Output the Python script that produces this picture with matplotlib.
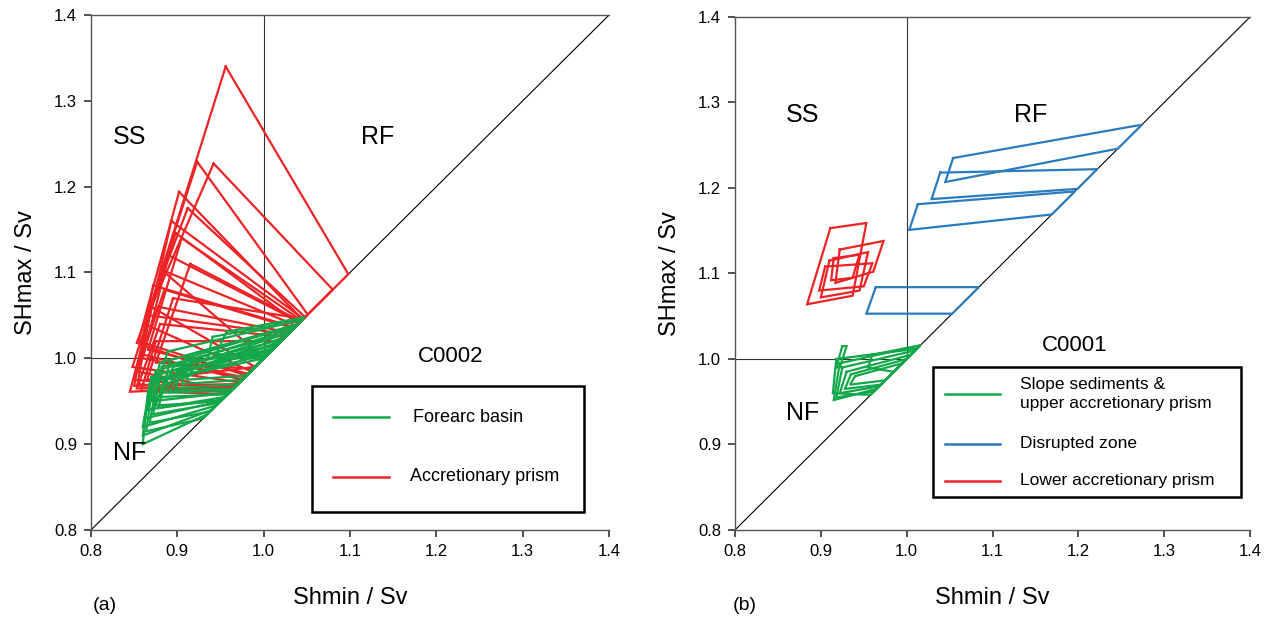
import matplotlib
matplotlib.use("Agg")
import matplotlib.pyplot as plt
from matplotlib.patches import Rectangle
from matplotlib.lines import Line2D

plt.rcParams["font.family"] = ["Liberation Sans", "DejaVu Sans"]

GREEN = "#12a84a"
RED = "#ee2326"
BLUE = "#2b7bbf"

# each polygon: [top-left, top-right (on diagonal), bottom-right (on diagonal), bottom-left]
red_a = [
    [(0.956, 1.340), (1.098, 1.098), (1.000, 1.000), (0.882, 1.103)],
    [(0.942, 1.227), (1.080, 1.080), (0.990, 0.990), (0.870, 1.060)],
    [(0.923, 1.229), (1.051, 1.051), (0.985, 0.985), (0.862, 1.040)],
    [(0.902, 1.194), (1.045, 1.045), (0.980, 0.980), (0.855, 1.020)],
    [(0.912, 1.175), (1.048, 1.048), (0.975, 0.975), (0.853, 1.018)],
    [(0.898, 1.146), (1.040, 1.040), (0.972, 0.972), (0.848, 0.990)],
    [(0.882, 1.103), (1.038, 1.038), (0.968, 0.968), (0.845, 0.961)],
    [(0.885, 1.080), (1.035, 1.035), (0.965, 0.965), (0.850, 0.975)],
    [(0.878, 1.060), (1.030, 1.030), (0.962, 0.962), (0.852, 0.985)],
    [(0.890, 1.120), (1.042, 1.042), (0.978, 0.978), (0.860, 1.000)],
    [(0.880, 1.040), (1.025, 1.025), (0.960, 0.960), (0.855, 0.970)],
    [(0.895, 1.070), (1.046, 1.046), (0.990, 0.990), (0.865, 0.975)],
    [(0.905, 1.140), (1.044, 1.044), (0.982, 0.982), (0.866, 1.010)],
    [(0.893, 1.160), (1.046, 1.046), (0.975, 0.975), (0.858, 1.005)],
    [(0.872, 1.085), (1.036, 1.036), (0.970, 0.970), (0.850, 0.968)],
    [(0.868, 1.050), (1.028, 1.028), (0.967, 0.967), (0.853, 0.965)],
    [(0.915, 1.110), (1.043, 1.043), (0.988, 0.988), (0.875, 0.995)],
    [(0.875, 1.020), (1.020, 1.020), (0.958, 0.958), (0.858, 0.962)],
]

green_a = [
    [(0.889, 1.008), (1.045, 1.045), (0.960, 0.960), (0.870, 0.950)],
    [(0.880, 0.995), (1.040, 1.040), (0.955, 0.955), (0.865, 0.940)],
    [(0.875, 0.985), (1.035, 1.035), (0.950, 0.950), (0.862, 0.930)],
    [(0.870, 0.978), (1.030, 1.030), (0.945, 0.945), (0.860, 0.920)],
    [(0.868, 0.970), (1.025, 1.025), (0.940, 0.940), (0.860, 0.910)],
    [(0.866, 0.962), (1.020, 1.020), (0.935, 0.935), (0.860, 0.900)],
    [(0.872, 0.975), (1.012, 1.012), (0.930, 0.930), (0.864, 0.915)],
    [(0.878, 0.982), (1.008, 1.008), (0.938, 0.938), (0.868, 0.925)],
    [(0.895, 0.990), (1.015, 1.015), (0.958, 0.958), (0.880, 0.955)],
    [(0.900, 0.985), (1.010, 1.010), (0.962, 0.962), (0.885, 0.960)],
    [(0.905, 0.980), (1.005, 1.005), (0.965, 0.965), (0.890, 0.962)],
    [(0.885, 0.975), (1.000, 1.000), (0.950, 0.950), (0.875, 0.945)],
    [(0.882, 0.990), (1.030, 1.030), (0.948, 0.948), (0.872, 0.935)],
    [(0.892, 0.998), (1.038, 1.038), (0.952, 0.952), (0.878, 0.942)],
    [(0.910, 1.000), (1.040, 1.040), (0.970, 0.970), (0.898, 0.965)],
    [(0.915, 0.995), (1.022, 1.022), (0.975, 0.975), (0.905, 0.970)],
    [(0.920, 0.990), (1.018, 1.018), (0.980, 0.980), (0.910, 0.975)],
    [(0.941, 1.025), (1.045, 1.045), (1.000, 1.000), (0.935, 1.000)],
    [(0.957, 1.031), (1.048, 1.048), (1.002, 1.002), (0.945, 1.005)],
]

blue_b = [
    [(1.054, 1.235), (1.274, 1.274), (1.246, 1.246), (1.045, 1.207)],
    [(1.039, 1.218), (1.222, 1.222), (1.199, 1.199), (1.029, 1.187)],
    [(1.013, 1.181), (1.196, 1.196), (1.169, 1.169), (1.003, 1.151)],
    [(0.964, 1.084), (1.084, 1.084), (1.053, 1.053), (0.953, 1.053)],
]

red_b = [
    [(0.911, 1.153), (0.953, 1.159), (0.937, 1.074), (0.884, 1.064)],
    [(0.922, 1.128), (0.973, 1.138), (0.961, 1.102), (0.917, 1.089)],
    [(0.910, 1.115), (0.955, 1.125), (0.945, 1.080), (0.900, 1.072)],
    [(0.915, 1.118), (0.945, 1.122), (0.937, 1.095), (0.912, 1.092)],
    [(0.905, 1.108), (0.960, 1.112), (0.950, 1.085), (0.898, 1.080)],
]

green_b = [
    [(0.922, 0.995), (1.016, 1.016), (0.965, 0.965), (0.915, 0.952)],
    [(0.925, 0.990), (1.010, 1.010), (0.962, 0.962), (0.918, 0.955)],
    [(0.930, 0.985), (1.005, 1.005), (0.968, 0.968), (0.922, 0.960)],
    [(0.935, 0.982), (1.000, 1.000), (0.970, 0.970), (0.928, 0.965)],
    [(0.940, 0.980), (0.995, 0.995), (0.975, 0.975), (0.934, 0.970)],
    [(0.918, 1.000), (1.012, 1.012), (0.958, 0.958), (0.914, 0.960)],
    [(0.960, 1.005), (1.016, 1.016), (0.985, 0.985), (0.955, 0.990)],
    [(0.925, 1.015), (0.930, 1.015), (0.922, 0.990), (0.918, 0.990)],
]

ticks = [0.8, 0.9, 1.0, 1.1, 1.2, 1.3, 1.4]


def draw_polys(ax, polys, color):
    for p in polys:
        xs = [v[0] for v in p] + [p[0][0]]
        ys = [v[1] for v in p] + [p[0][1]]
        ax.plot(xs, ys, color=color, lw=1.6, solid_joinstyle="miter")


def setup(ax):
    ax.set_xlim(0.8, 1.4)
    ax.set_ylim(0.8, 1.4)
    ax.set_xticks(ticks)
    ax.set_yticks(ticks)
    ax.set_xticklabels([f"{t:.1f}" for t in ticks])
    ax.set_yticklabels([f"{t:.1f}" for t in ticks])
    ax.tick_params(labelsize=12, length=5, width=1.2, color="#333333", pad=5)
    ax.spines["right"].set_visible(False)
    for side in ["left", "bottom", "top"]:
        ax.spines[side].set_color("#555555")
        ax.spines[side].set_linewidth(1.0)
    ax.plot([0.8, 1.4], [0.8, 1.4], color="black", lw=0.8)
    ax.plot([1.0, 1.0], [1.0, 1.4], color="#333333", lw=0.8)
    ax.plot([0.8, 1.0], [1.0, 1.0], color="#333333", lw=0.8)
    ax.set_xlabel("Shmin / Sv", fontsize=17, labelpad=20)
    ax.set_ylabel("SHmax / Sv", fontsize=17, labelpad=12)


fig = plt.figure(figsize=(12.71, 6.2), dpi=100)
ax1 = fig.add_axes([0.0716, 0.1452, 0.4076, 0.8306])
ax2 = fig.add_axes([0.5783, 0.1452, 0.4052, 0.8274])

for ax in (ax1, ax2):
    setup(ax)

draw_polys(ax1, red_a, RED)
draw_polys(ax1, green_a, GREEN)
draw_polys(ax2, green_b, GREEN)
draw_polys(ax2, blue_b, BLUE)
draw_polys(ax2, red_b, RED)

ax1.text(0.845, 1.258, "SS", fontsize=18, ha="center", va="center")
ax1.text(1.132, 1.258, "RF", fontsize=18, ha="center", va="center")
ax1.text(0.845, 0.890, "NF", fontsize=18, ha="center", va="center")
ax1.text(1.216, 1.002, "C0002", fontsize=16, ha="center", va="center")

ax2.text(0.879, 1.285, "SS", fontsize=18, ha="center", va="center")
ax2.text(1.144, 1.285, "RF", fontsize=18, ha="center", va="center")
ax2.text(0.879, 0.937, "NF", fontsize=18, ha="center", va="center")
ax2.text(1.196, 1.016, "C0001", fontsize=16, ha="center", va="center")

# legend (a)
ax1.add_patch(Rectangle((0.427, 0.035), 0.525, 0.245, transform=ax1.transAxes,
                        fill=False, lw=1.8, ec="black", zorder=5))
ax1.add_line(Line2D([0.467, 0.575], [0.219, 0.219], transform=ax1.transAxes,
                    color=GREEN, lw=1.8))
ax1.text(0.622, 0.219, "Forearc basin", transform=ax1.transAxes, fontsize=13, va="center")
ax1.add_line(Line2D([0.467, 0.575], [0.103, 0.103], transform=ax1.transAxes,
                    color=RED, lw=1.8))
ax1.text(0.616, 0.103, "Accretionary prism", transform=ax1.transAxes, fontsize=13, va="center")

# legend (b)
ax2.add_patch(Rectangle((0.384, 0.064), 0.598, 0.253, transform=ax2.transAxes,
                        fill=False, lw=1.8, ec="black", zorder=5))
for y, c, lab in [(0.265, GREEN, "Slope sediments &\nupper accretionary prism"),
                  (0.168, BLUE, "Disrupted zone"),
                  (0.096, RED, "Lower accretionary prism")]:
    ax2.add_line(Line2D([0.407, 0.515], [y, y], transform=ax2.transAxes, color=c, lw=1.8))
    ax2.text(0.553, y, lab, transform=ax2.transAxes, fontsize=12.5, va="center", linespacing=1.3)

fig.text(105 / 1271, 1 - 605 / 620, "(a)", fontsize=14, ha="center", va="center")
fig.text(745 / 1271, 1 - 605 / 620, "(b)", fontsize=14, ha="center", va="center")

fig.savefig("out.png", dpi=100)
